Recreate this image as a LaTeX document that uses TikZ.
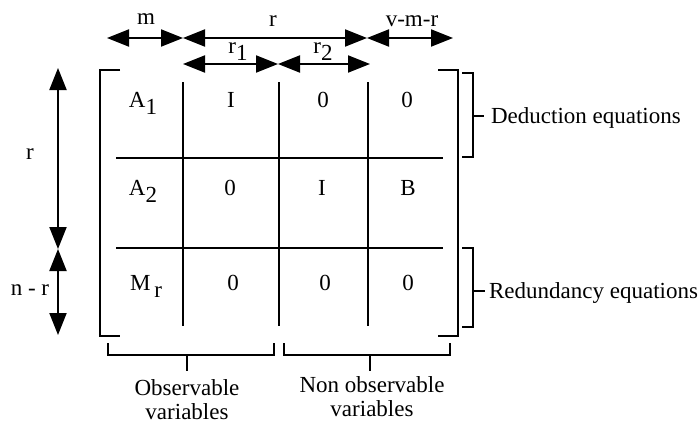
\documentclass[tikz,border=0pt]{standalone}
\usepackage{fontspec}
\setmainfont{Liberation Serif}
\usetikzlibrary{arrows.meta}
\newcommand{\lowidx}[1]{\raisebox{-0.32em}{#1}}
\begin{document}
\begin{tikzpicture}[x=1pt, y=-1pt, line width=2.2pt, every node/.style={inner sep=0pt, font=\fontsize{23}{24}\selectfont}, span/.style={{Triangle[length=22pt,width=17pt]}-{Triangle[length=22pt,width=17pt]}, line width=2pt}, tick/.style={line width=2.2pt}]
		\useasboundingbox (0,0) rectangle (699,423);

		% arrow ends
		\coordinate (t0) at (107,38);
		\coordinate (t1) at (183,38);
		\coordinate (t2) at (367,38);
		\coordinate (t3) at (453,38);
		\coordinate (s0) at (183,64);
		\coordinate (s1) at (278,64);
		\coordinate (s2) at (370,64);
		\coordinate (l0) at (58,68);
		\coordinate (l1) at (58,249);
		\coordinate (l2) at (58,335);
		\draw[span] (t0) -- (t1);
		\draw[span] (t1) -- (t2);
		\draw[span] (t2) -- (t3);
		\draw[span] (s0) -- (s1);
		\draw[span] (s1) -- (s2);
		\draw[span] (l0) -- (l1);
		\draw[span] (l1) -- (l2);
		\node[anchor=base] (lm) at (146,24) {m};
		\node[anchor=base] (lr) at (273,26) {r};
		\node[anchor=base] (lvmr) at (412,26) {v-m-r};
		\node[anchor=base] (lr1) at (238,53) {r\lowidx{1}};
		\node[anchor=base] (lr2) at (323,53) {r\lowidx{2}};
		\node[anchor=base] (lrr) at (30,159) {r};
		\node[anchor=base] (lnr) at (30,295) {n - r};

		% matrix
		\draw (120,70) -- (100,70) -- (100,336) -- (120,336);
		\draw (438,70) -- (458,70) -- (458,336) -- (438,336);
		\foreach \x in {183,279,368}
			\draw (\x,82) -- (\x,326);
		\foreach \y in {158,248}
			\draw (116,\y) -- (443,\y);
		\node[anchor=base] (a1) at (143,107) {A\lowidx{1}};
		\node[anchor=base] (i1) at (231,107) {I};
		\node[anchor=base] (z12) at (323,107) {0};
		\node[anchor=base] (z13) at (407,107) {0};
		\node[anchor=base] (a2) at (143,195) {A\lowidx{2}};
		\node[anchor=base] (z21) at (230,195) {0};
		\node[anchor=base] (i2) at (322,195) {I};
		\node[anchor=base] (b2) at (408,195) {B};
		\node[anchor=base] (mr) at (146,290) {M\,\lowidx{r}};
		\node[anchor=base] (z31) at (233,290) {0};
		\node[anchor=base] (z32) at (325,290) {0};
		\node[anchor=base] (z33) at (408,290) {0};

		% equation braces
		\draw[tick] (462,73) -- (473,73) -- (473,157) -- (462,157);
		\draw[tick] (473,116) -- (484,116);
		\node[anchor=base west] (ded) at (490,123) {Deduction equations};
		\draw[tick] (462,248) -- (473,248) -- (473,327) -- (462,327);
		\draw[tick] (473,291) -- (485,291);
		\node[anchor=base west] (red) at (488,298) {Redundancy equations};

		% variable braces
		\draw[tick] (108,343) -- (108,355) -- (274,355) -- (274,343);
		\draw[tick] (187,355) -- (187,371);
		\node[anchor=north, align=center] (obs) at (187,378) {Observable\\variables};
		\draw[tick] (284,343) -- (284,355) -- (450,355) -- (450,343);
		\draw[tick] (370,355) -- (370,371);
		\node[anchor=north, align=center] (nobs) at (372,375) {Non observable\\variables};
	\end{tikzpicture}
\end{document}
